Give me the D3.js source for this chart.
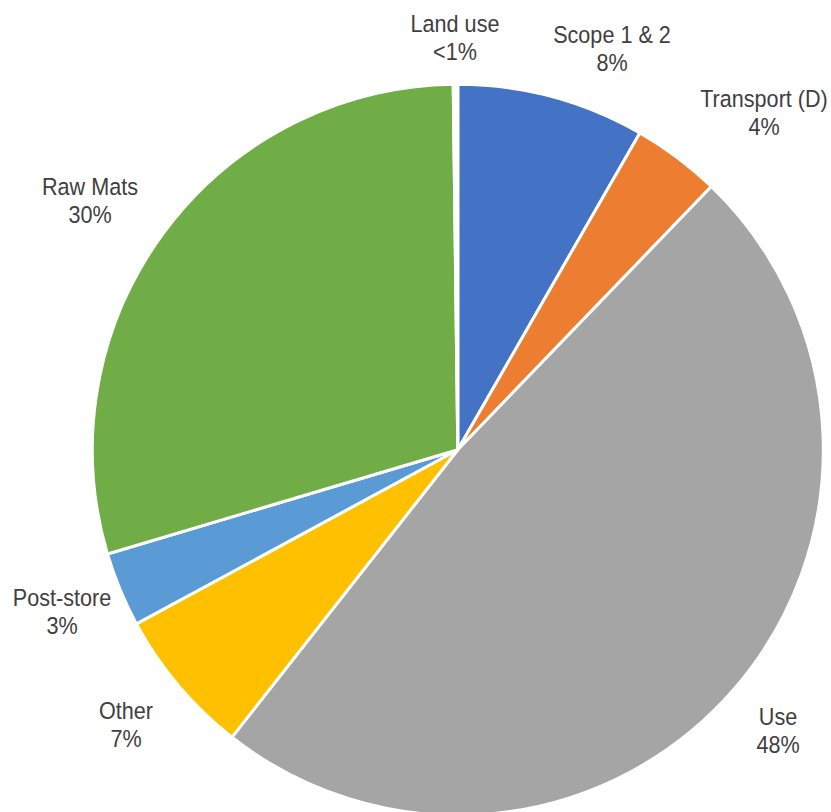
<html>
<head>
  <title>Emissions pie</title>
<script src="https://d3js.org/d3.v7.min.js"></script>
<style>
  body { margin: 0; background: #fff; }
</style>
</head>
<body>
  <script>
    // slices in clockwise order from 12 o'clock
    categories = ["Scope 1 & 2", "Transport (D)", "Use", "Other", "Post-store", "Raw Mats", "Land use"];
    values = [8.3, 3.9, 48.4, 6.5, 3.3, 29.4, 0.2];
    pctLabels = ["8%", "4%", "48%", "7%", "3%", "30%", "<1%"];
    colors = ["#4472C4", "#ED7D31", "#A5A5A5", "#FFC000", "#5B9BD5", "#70AD47", "#ffffff"];

    // label centre x and first baseline y
    labelPos = [[612, 43], [764, 107], [778, 725], [126, 719], [62, 606], [90, 195], [455, 32]];

    width = 831;
    height = 812;
    cx = 457.8;
    cy = 449.8;
    radius = 365.5;

    var svg = d3.select("body").append("svg")
            .attr("width", width)
            .attr("height", height);

    var pie = d3.pie().sort(null).value(function(d){ return d; });
    var arc = d3.arc().innerRadius(0).outerRadius(radius);

    var g = svg.append("g").attr("transform", "translate(" + cx + "," + cy + ")");

    g.selectAll("path")
      .data(pie(values))
      .enter()
        .append("path")
        .attr("d", arc)
        .attr("fill", function(d, i){ return colors[i]; })
        .attr("stroke", "#fff")
        .attr("stroke-width", 3)
        .attr("stroke-linejoin", "round");

    // no narrow font installed, so squeeze the regular one a bit
    var labels = svg.selectAll("text.lbl")
      .data(categories)
      .enter()
        .append("text")
        .attr("class", "lbl")
        .attr("text-anchor", "middle")
        .attr("font-family", "'Liberation Sans', Arial, sans-serif")
        .attr("font-size", 23.5)
        .attr("fill", "#404040")
        .attr("transform", function(d, i){ return "translate(" + labelPos[i][0] + "," + labelPos[i][1] + ") scale(0.92,1)"; });

    labels.append("tspan").attr("x", 0).attr("y", 0).text(function(d){ return d; });
    labels.append("tspan").attr("x", 0).attr("y", 28).text(function(d, i){ return pctLabels[i]; });
  </script>
</body>
</html>
